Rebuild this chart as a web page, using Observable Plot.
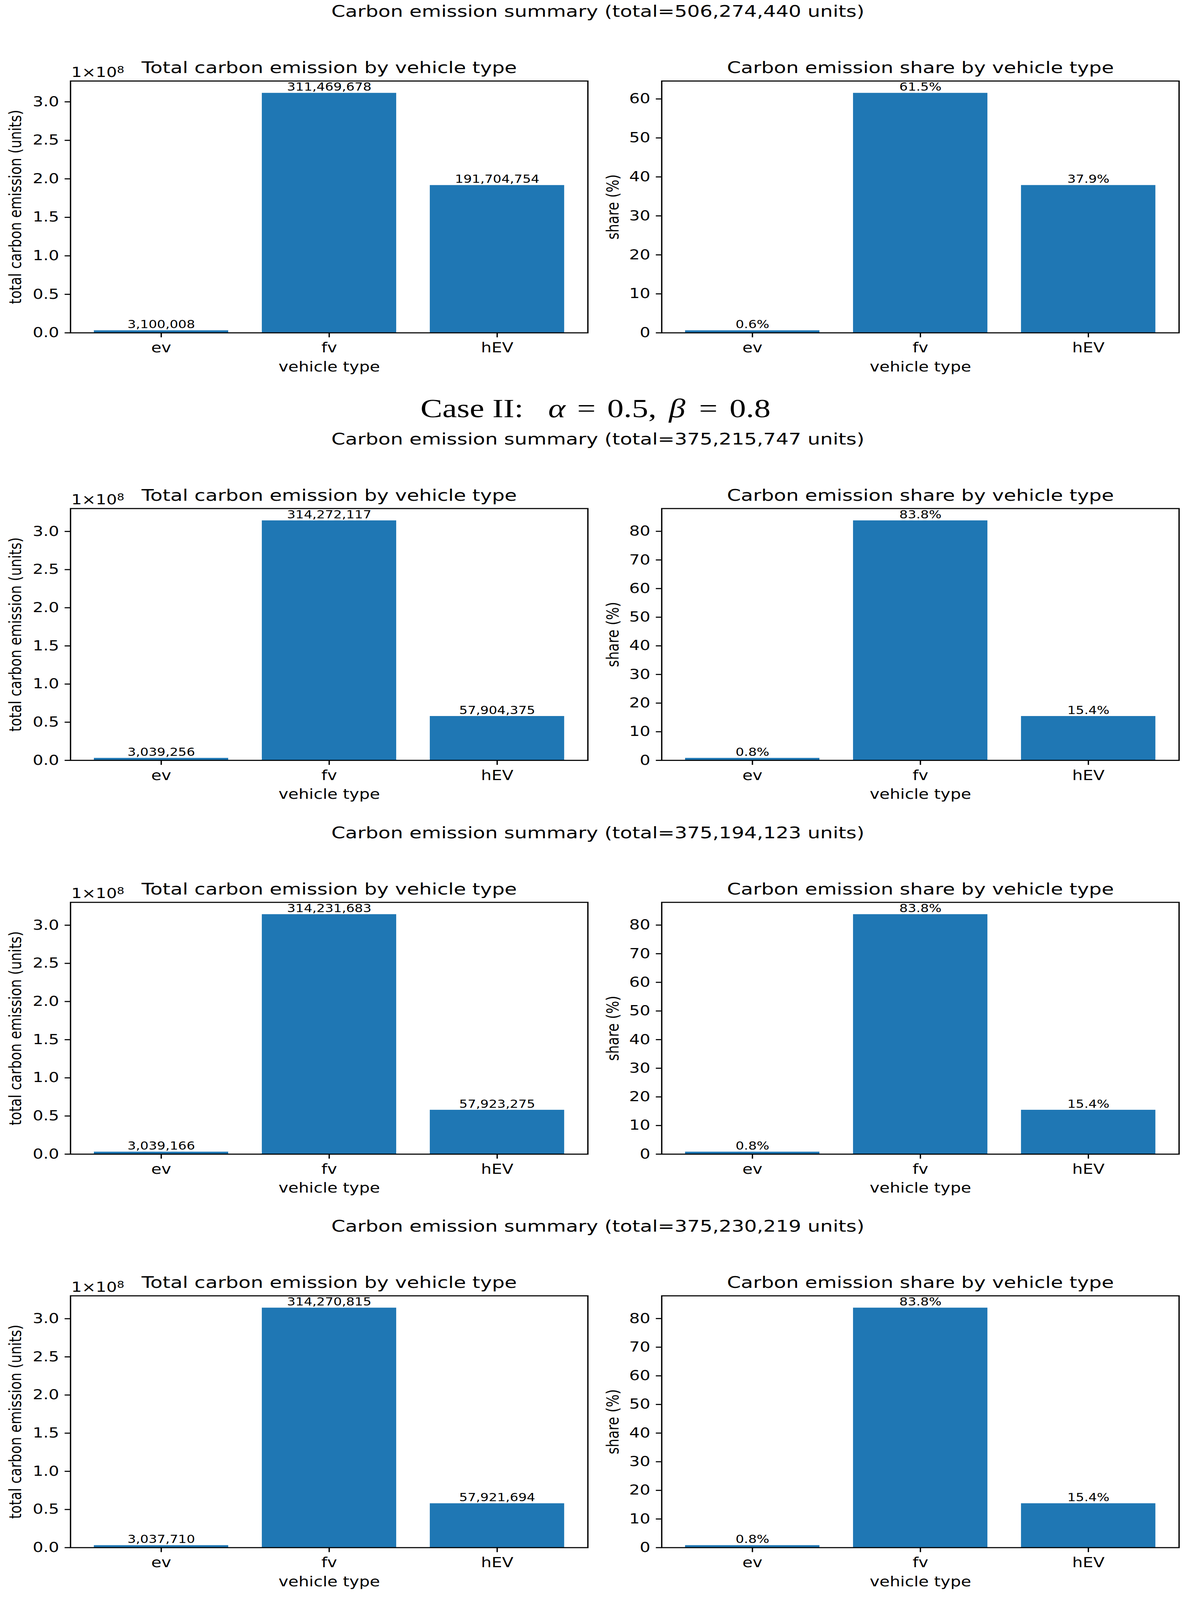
<!DOCTYPE html>
<html><head><meta charset="utf-8">
<script src="https://cdn.jsdelivr.net/npm/d3@7"></script>
<script src="https://cdn.jsdelivr.net/npm/@observablehq/plot@0.6"></script>
<style>
html,body{margin:0;background:#fff;overflow:hidden;}
#wrap{position:relative;width:3048px;height:4096px;overflow:hidden;background:#fff;}
#page{position:absolute;left:0;top:0;width:3048px;height:5026px;background:#fff;transform-origin:0 0;}
#page > svg{position:absolute;}
</style></head><body><div id="wrap"><div id="page"></div></div>
<script>
// ---- data ----
const vehicleTypes = ["ev", "fv", "hEV"];
const emissionRun1 = [3100008, 311469678, 191704754];
const emissionRun2 = [3039256, 314272117, 57904375];
const emissionRun3 = [3039166, 314231683, 57923275];
const emissionRun4 = [3037710, 314270815, 57921694];
const shareRun1 = [0.61, 61.52, 37.87];
const shareRun2 = [0.81, 83.76, 15.43];
const shareRun3 = [0.81, 83.75, 15.44];
const shareRun4 = [0.81, 83.75, 15.44];
const summaryTotals = [506274440, 375215747, 375194123, 375230219];
const emissionTicks = [0, 0.5e8, 1.0e8, 1.5e8, 2.0e8, 2.5e8, 3.0e8];
const shareTicksRun1 = [0, 10, 20, 30, 40, 50, 60];
const shareTicksOther = [0, 10, 20, 30, 40, 50, 60, 70, 80];
const caseHeadingParts = [
  {t: "Case II:", italic: false}, {t: "α", italic: true}, {t: "=", italic: false},
  {t: "0.5,", italic: false}, {t: "β", italic: true}, {t: "=", italic: false}, {t: "0.8", italic: false}
];

const runs = [
  {emission: emissionRun1, share: shareRun1, shareTicks: shareTicksRun1, total: summaryTotals[0]},
  {emission: emissionRun2, share: shareRun2, shareTicks: shareTicksOther, total: summaryTotals[1]},
  {emission: emissionRun3, share: shareRun3, shareTicks: shareTicksOther, total: summaryTotals[2]},
  {emission: emissionRun4, share: shareRun4, shareTicks: shareTicksOther, total: summaryTotals[3]}
];

// ---- layout (reference is 3048x5026; the photographed window is shorter, so the
// whole figure is fitted to the window height) ----
const FONT = "DejaVu Sans";
const FIG_H = 5026;
const axesTops = [254, 1597, 2834, 4070];
const AX_W = 1324, AX_H = 791;
const ML = 180, MR = 24, MT = 120, MB = 170;
const leftX = 0, rightX = 1693 - ML;
const BLUE = "#1f77b4";
const TICK = 14.6, LW = 3.4;
const caseHeadingX = [1076, 1403, 1477, 1554, 1712, 1789, 1867];

const page = document.getElementById("page");
const fmtInt = d3.format(",");

function panel({values, labels, yTicks, yFormat, title, ylabel, ylabelDx, offsetText}) {
  const data = vehicleTypes.map((t, i) => ({type: t, value: values[i], label: labels[i]}));
  const marks = [
    Plot.barY(data, {x: "type", y: "value", fill: BLUE}),
    Plot.text(data, {x: "type", y: "value", text: "label", dy: -7, lineAnchor: "bottom",
      fontSize: 34, fill: "black"}),
    Plot.frame({stroke: "black", strokeWidth: LW}),
    Plot.axisY({ticks: yTicks, tickFormat: yFormat, tickSize: TICK, tickPadding: 14.6,
      fontSize: 42.5, strokeWidth: LW, label: null}),
    Plot.axisX({tickSize: TICK, tickPadding: 17, fontSize: 42.5, strokeWidth: LW, label: null}),
    Plot.text([title], {frameAnchor: "top", dy: -25, lineAnchor: "bottom", fontSize: 51}),
    Plot.text(["vehicle type"], {frameAnchor: "bottom", dy: 121, lineAnchor: "bottom", fontSize: 42.5}),
    Plot.text([ylabel], {frameAnchor: "left", dx: ylabelDx, rotate: -90, lineAnchor: "middle",
      textAnchor: "middle", fontSize: 42.5})
  ];
  if (offsetText) marks.push(Plot.text([offsetText], {frameAnchor: "top-left", textAnchor: "start",
    lineAnchor: "bottom", dx: 2, dy: -13, fontSize: 42.5}));
  const svg = Plot.plot({
    width: ML + AX_W + MR, height: MT + AX_H + MB,
    marginLeft: ML, marginRight: MR, marginTop: MT, marginBottom: MB,
    style: {fontFamily: FONT, color: "black", background: "transparent", overflow: "visible", maxWidth: "none"},
    x: {type: "band", domain: vehicleTypes, paddingInner: 0.2, paddingOuter: 0.14, align: 0.5, round: false, label: null},
    y: {domain: [0, d3.max(values) * 1.05], label: null},
    marks
  });
  if (offsetText) {
    d3.select(svg).selectAll("text").filter(function() { return this.textContent === offsetText; })
      .each(function() {
        const el = d3.select(this);
        el.text("1×10");
        el.append("tspan").attr("dy", "-0.42em").attr("font-size", "0.7em").text("8");
      });
  }
  return svg;
}

runs.forEach((r, k) => {
  const top = axesTops[k] - MT;
  const left = panel({
    values: r.emission,
    labels: r.emission.map(fmtInt),
    yTicks: emissionTicks,
    yFormat: d => (d / 1e8).toFixed(1),
    title: "Total carbon emission by vehicle type",
    ylabel: "total carbon emission (units)",
    ylabelDx: -140,
    offsetText: "1×10⁸"
  });
  left.style.left = leftX + "px"; left.style.top = top + "px";
  page.appendChild(left);
  const right = panel({
    values: r.share,
    labels: r.share.map(v => v.toFixed(1) + "%"),
    yTicks: r.shareTicks,
    yFormat: d => String(d),
    title: "Carbon emission share by vehicle type",
    ylabel: "share (%)",
    ylabelDx: -124,
    offsetText: null
  });
  right.style.left = rightX + "px"; right.style.top = top + "px";
  page.appendChild(right);
});

// ---- figure headings ----
const head = d3.create("svg").attr("width", 3048).attr("height", FIG_H)
  .style("left", "0px").style("top", "0px").style("pointer-events", "none");
runs.forEach((r, k) => {
  head.append("text").attr("x", 1530).attr("y", axesTops[k] - 201)
    .attr("text-anchor", "middle").attr("font-family", FONT).attr("font-size", 51)
    .attr("fill", "black")
    .text(`Carbon emission summary (total=${fmtInt(r.total)} units)`);
});
const ct = head.append("text").attr("y", 1310)
  .attr("font-family", "Liberation Serif").attr("font-size", 84).attr("fill", "black");
caseHeadingParts.forEach((p, i) => {
  ct.append("tspan").attr("x", caseHeadingX[i]).attr("font-style", p.italic ? "italic" : null).text(p.t);
});
page.appendChild(head.node());

// fit the figure into the window height actually available
const availH = Math.min(window.innerHeight || FIG_H, FIG_H);
const sy = availH / FIG_H;
document.getElementById("wrap").style.height = availH + "px";
page.style.transform = `scale(1, ${sy})`;
</script></body></html>
